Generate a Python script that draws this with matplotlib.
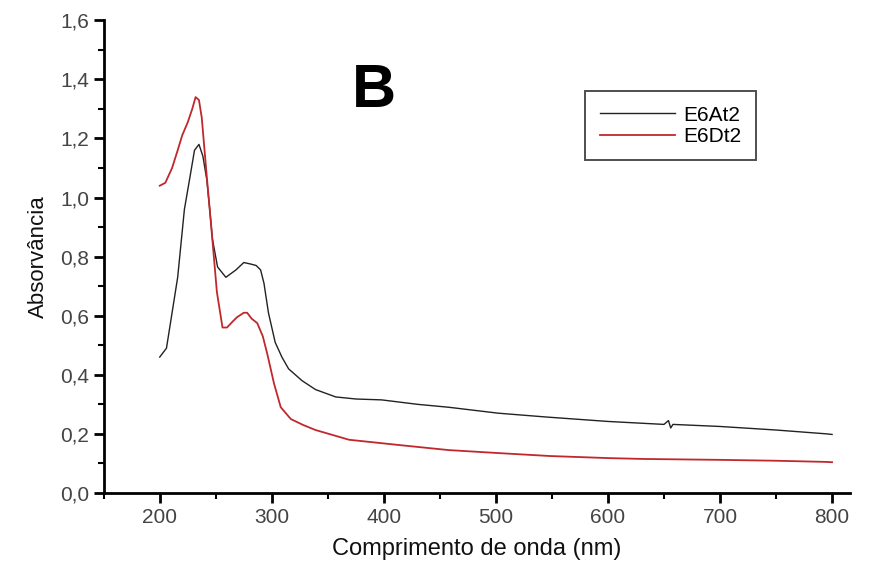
import matplotlib.pyplot as plt
from matplotlib.ticker import MultipleLocator, FuncFormatter

plt.rcParams["font.family"] = ["Liberation Sans", "DejaVu Sans"]

# E6At2 (black)
wl_a = [200, 206, 211, 216, 222, 227, 231, 235, 238.5, 242, 244.6, 247, 251.6,
        259, 268, 275, 281, 286, 290, 293, 297, 303, 309, 315, 327, 339, 357,
        375, 398, 430, 458, 502, 545, 600, 650, 654, 656, 658, 700, 750, 795, 800]
abs_a = [0.46, 0.49, 0.61, 0.73, 0.96, 1.07, 1.16, 1.18, 1.14, 1.06, 0.96, 0.86,
         0.765, 0.73, 0.755, 0.78, 0.775, 0.77, 0.755, 0.71, 0.61, 0.51, 0.46,
         0.42, 0.38, 0.35, 0.325, 0.318, 0.315, 0.30, 0.29, 0.27, 0.257, 0.242,
         0.232, 0.245, 0.22, 0.232, 0.225, 0.213, 0.20, 0.198]

# E6Dt2 (red)
wl_d = [200, 205, 211, 216, 220, 225, 229, 232, 235, 237.5, 242, 246, 251, 256,
        260, 265, 269, 275, 278, 282, 287, 292, 296, 299, 302, 308, 317, 328,
        339, 369, 414, 458, 502, 548, 600, 632, 700, 750, 795, 800]
abs_d = [1.04, 1.05, 1.10, 1.16, 1.21, 1.255, 1.30, 1.34, 1.33, 1.27, 1.07, 0.90,
         0.68, 0.56, 0.56, 0.58, 0.595, 0.61, 0.61, 0.59, 0.575, 0.53, 0.47,
         0.42, 0.37, 0.29, 0.25, 0.23, 0.213, 0.18, 0.162, 0.145, 0.135, 0.125,
         0.118, 0.115, 0.112, 0.109, 0.105, 0.104]

fig = plt.figure(figsize=(8.79, 5.64), dpi=100)
ax = fig.add_axes([0.118, 0.126, 0.849, 0.838])

ax.plot(wl_a, abs_a, color="#222222", lw=1.0, label="E6At2")
ax.plot(wl_d, abs_d, color="#c0282d", lw=1.3, label="E6Dt2")

ax.set_xlim(150, 816)
ax.set_ylim(0, 1.6)
ax.xaxis.set_major_locator(MultipleLocator(100))
ax.xaxis.set_minor_locator(MultipleLocator(50))
ax.yaxis.set_major_locator(MultipleLocator(0.2))
ax.yaxis.set_minor_locator(MultipleLocator(0.1))
ax.yaxis.set_major_formatter(FuncFormatter(lambda v, p: f"{v:.1f}".replace(".", ",")))

for s in ["top", "right"]:
    ax.spines[s].set_visible(False)
for s in ["left", "bottom"]:
    ax.spines[s].set_linewidth(2)

ax.tick_params(which="major", direction="out", length=7, width=2,
               labelsize=15, labelcolor="#444444")
ax.tick_params(which="minor", direction="out", length=4, width=1.5)

ax.set_xlabel("Comprimento de onda (nm)", fontsize=17, labelpad=8, color="#111111")
ax.set_ylabel("Absorvância", fontsize=16, labelpad=8, color="#111111")

ax.text(391, 1.36, "B", fontsize=44, fontweight="bold", ha="center", va="center")

leg = ax.legend(loc="upper left", bbox_to_anchor=(0.645, 0.85), borderaxespad=0,
                fontsize=15, frameon=True, fancybox=False, edgecolor="#222222",
                handlelength=3.6, handletextpad=0.4, borderpad=0.7,
                labelspacing=0.1)
leg.get_frame().set_linewidth(1.4)

fig.savefig("out.png", dpi=100)
